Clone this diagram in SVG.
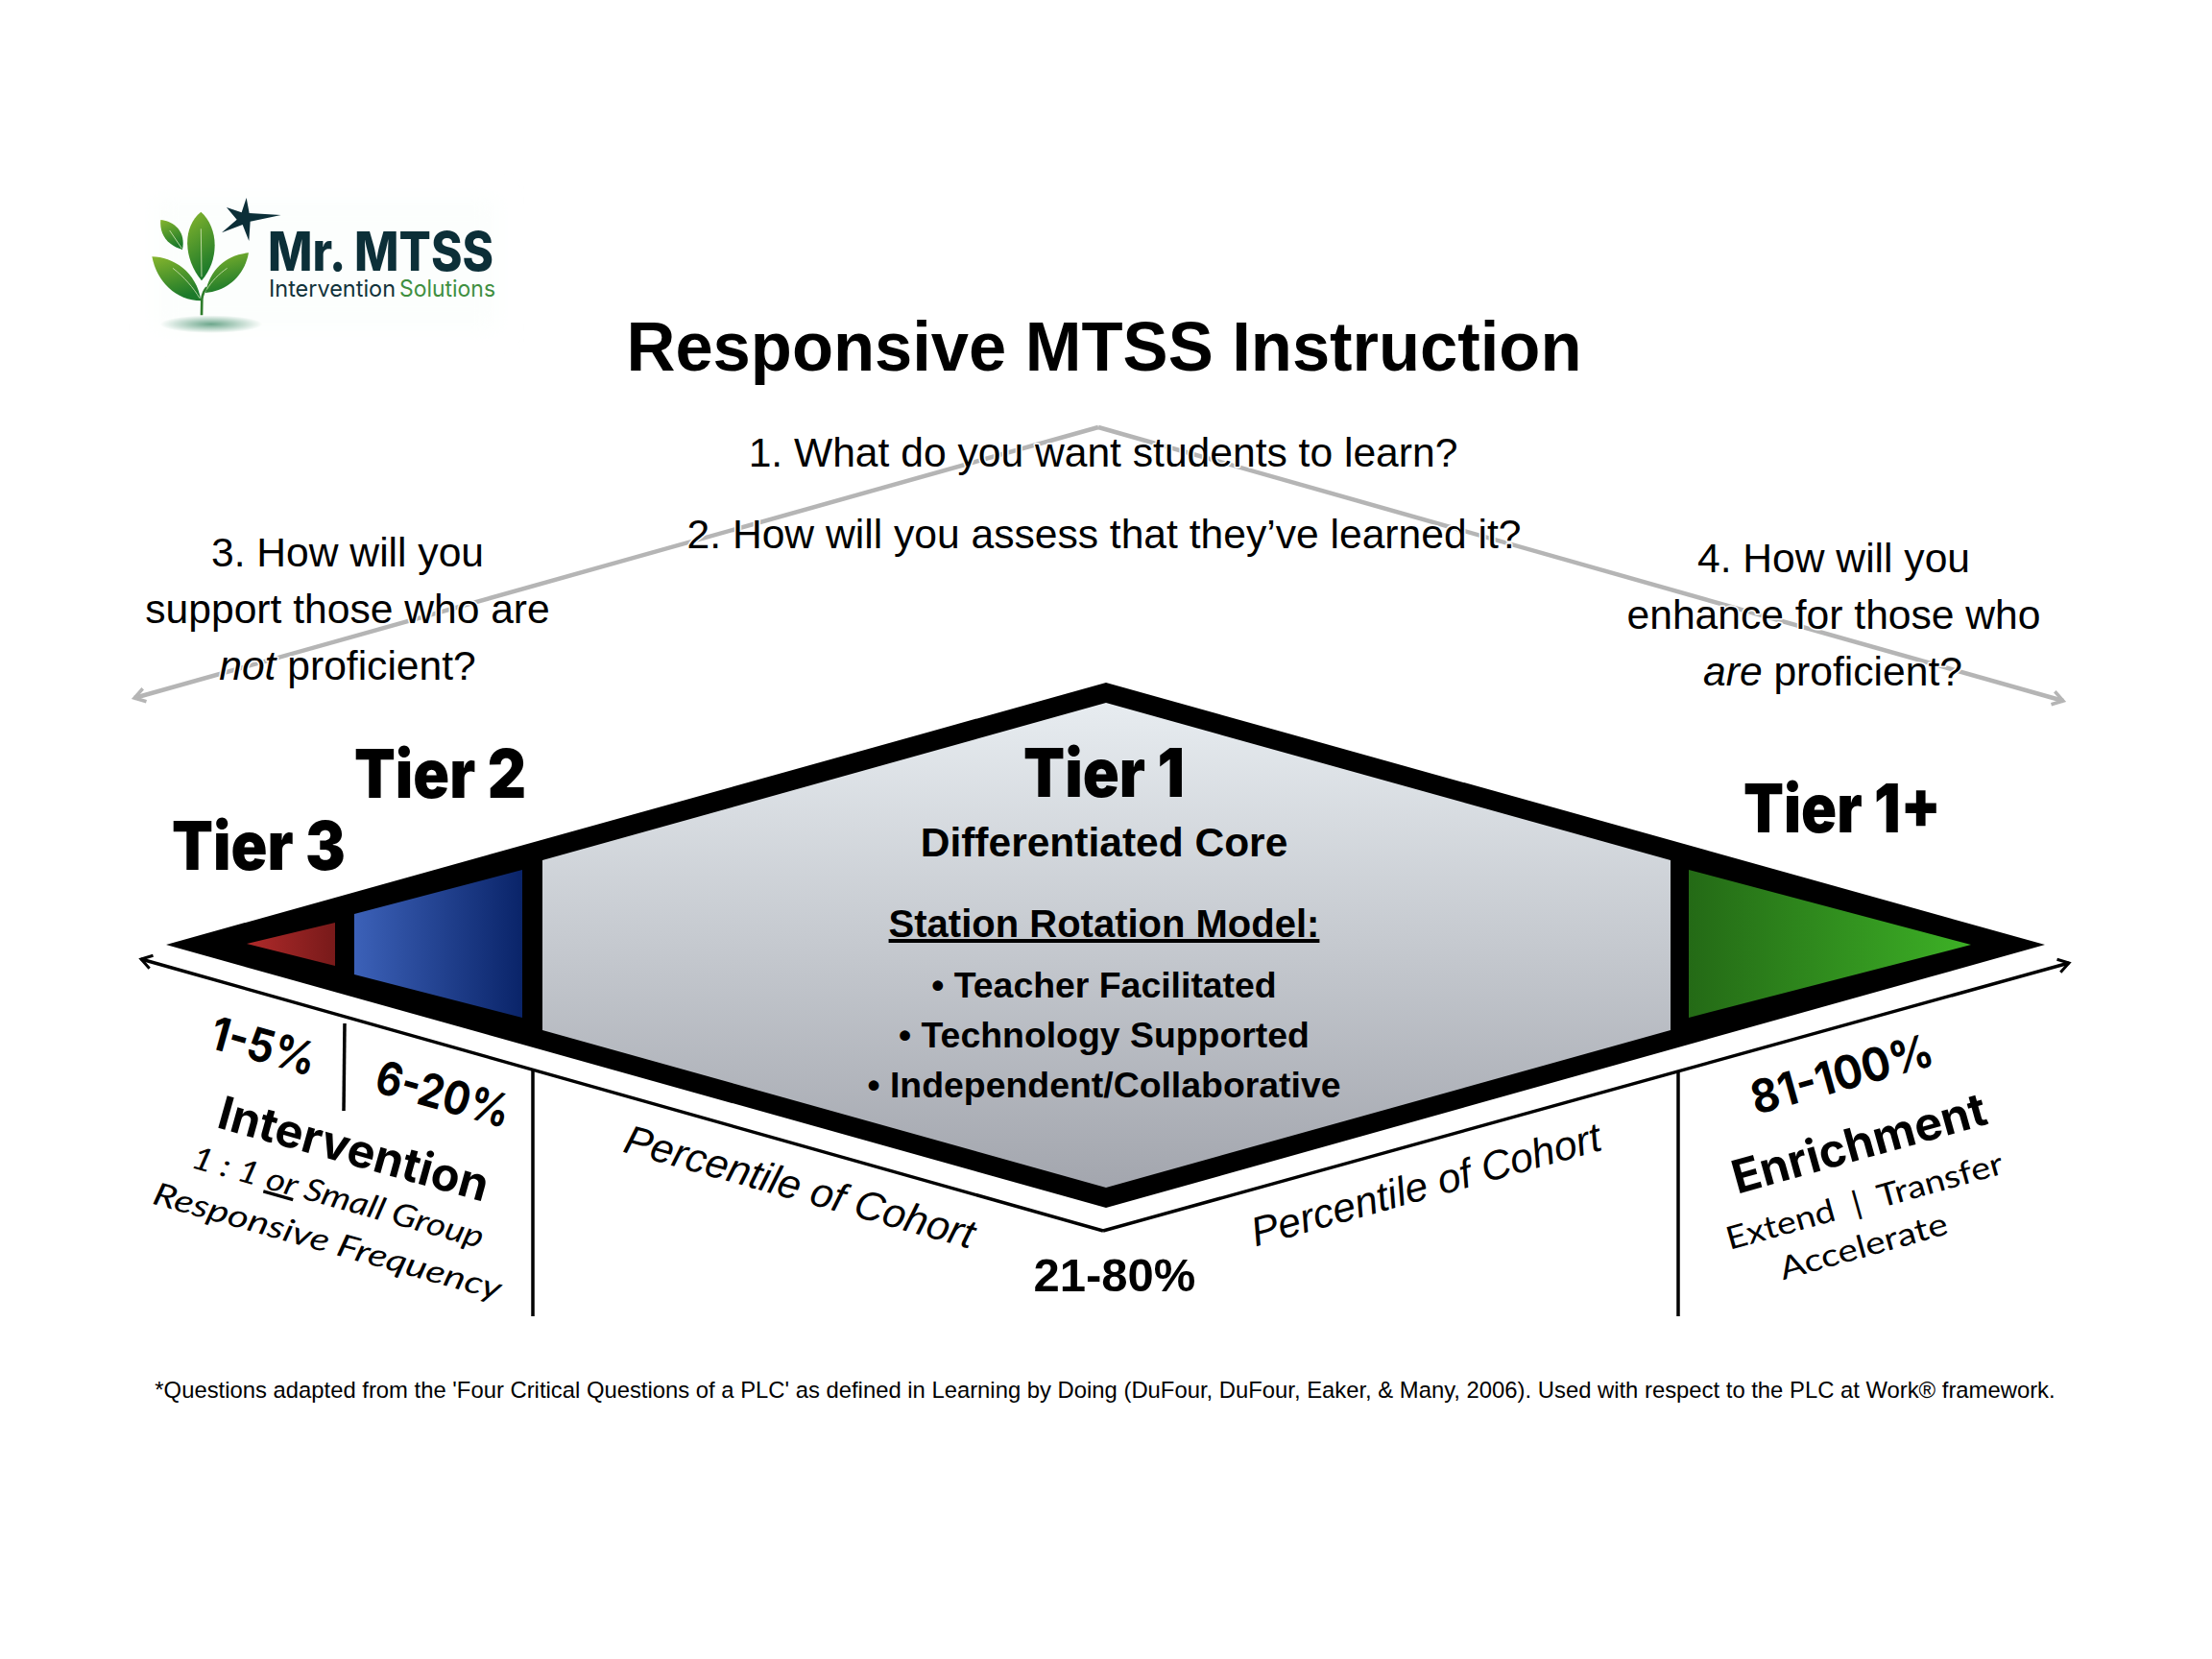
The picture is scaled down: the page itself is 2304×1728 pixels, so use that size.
<svg xmlns="http://www.w3.org/2000/svg" width="2304" height="1728" viewBox="0 0 2304 1728">
<style>
.a{font-family:"Liberation Sans",Arial,sans-serif}
.p{font-family:Inter,"Open Sans",sans-serif}
.q{font-family:"Liberation Sans",Arial,sans-serif;font-size:42.6px;fill:#000;text-anchor:middle;stroke:#fff;stroke-width:3px;paint-order:stroke;stroke-linejoin:round}
.b{font-family:"Liberation Sans",Arial,sans-serif;font-weight:700;text-anchor:middle;fill:#000}
.t{font-family:Inter,sans-serif;font-weight:900;font-size:70px;fill:#000}
.r{font-family:Inter,sans-serif;font-weight:700;text-anchor:middle;fill:#000}
.l{font-family:Lato,"Open Sans",sans-serif;font-weight:400;font-size:33px;text-anchor:middle;fill:#000}
.pc{font-family:"Liberation Sans",Arial,sans-serif;font-style:italic;font-size:42.6px;text-anchor:middle;fill:#000}
.gl{fill:none;stroke:#b5b5b5;stroke-width:4.5}
.bl{fill:none;stroke:#000;stroke-width:3.5}
</style>
<defs>
<linearGradient id="gc" x1="0" y1="0" x2="0" y2="1"><stop offset="0" stop-color="#e7ecf0"/><stop offset="1" stop-color="#a3a6ae"/></linearGradient>
<linearGradient id="gb" x1="0" y1="0" x2="1" y2="0"><stop offset="0" stop-color="#3c61b8"/><stop offset="1" stop-color="#0a2469"/></linearGradient>
<linearGradient id="gr" x1="0" y1="0" x2="1" y2="0"><stop offset="0" stop-color="#b02a2a"/><stop offset="1" stop-color="#781a1a"/></linearGradient>
<linearGradient id="gg" x1="0" y1="0" x2="1" y2="0"><stop offset="0" stop-color="#246a16"/><stop offset="1" stop-color="#3db126"/></linearGradient>
<linearGradient id="lf" x1="0" y1="0" x2="0.3" y2="1"><stop offset="0" stop-color="#86b52d"/><stop offset="1" stop-color="#1c7a2a"/></linearGradient>
<radialGradient id="sh"><stop offset="0" stop-color="#6da78c"/><stop offset="1" stop-color="#6da78c" stop-opacity="0"/></radialGradient>
<filter id="blur" x="-10%" y="-20%" width="120%" height="140%"><feGaussianBlur stdDeviation="12"/></filter>
<marker id="ag" viewBox="0 0 20 20" refX="16" refY="10" markerWidth="20" markerHeight="20" markerUnits="userSpaceOnUse" orient="auto"><path d="M5,3 L16,10 L5,17" fill="none" stroke="#b5b5b5" stroke-width="3.5"/></marker>
<marker id="ak" viewBox="0 0 20 20" refX="16" refY="10" markerWidth="20" markerHeight="20" markerUnits="userSpaceOnUse" orient="auto"><path d="M5,3 L16,10 L5,17" fill="none" stroke="#000" stroke-width="3"/></marker>
</defs>
<rect width="2304" height="1728" fill="#fff"/>

<g id="logo">
<rect x="160" y="205" width="360" height="140" fill="#fcfefd" filter="url(#blur)"/>
<g transform="translate(130,180) scale(0.3333)">
<ellipse cx="270" cy="473" rx="160" ry="28" fill="url(#sh)"/>
<path d="M240,445 L241,395 C243,375 250,365 256,358" fill="none" stroke="#2f7d2c" stroke-width="8"/>
<path d="M112,147 C150,150 192,180 180,240 C130,225 108,190 112,147Z" fill="url(#lf)"/>
<path d="M238,122 C292,170 298,270 240,337 C184,270 178,170 238,122Z" fill="url(#lf)"/>
<path d="M85,262 C150,262 225,310 238,400 C160,400 100,340 85,262Z" fill="url(#lf)"/>
<path d="M387,250 C375,320 320,370 252,375 C265,300 320,255 387,250Z" fill="url(#lf)"/>
<path d="M238,175 L240,325 M150,298 C185,325 215,360 234,392 M320,298 C295,315 270,340 256,365 M140,180 L178,236" fill="none" stroke="#cfe3b5" stroke-width="2.5"/>
<polygon points="380,78 389,126 488,132 392,152 388,213 368,162 303,187 350,146 318,108 365,124" fill="#0c2f38"/>
</g>
<text x="279" y="282" class="p" font-weight="800" font-size="56" fill="#0c2f38" textLength="235" lengthAdjust="spacingAndGlyphs">Mr. MTSS</text>
<text x="280" y="309" class="p" font-size="24" fill="#12333b" textLength="132" lengthAdjust="spacingAndGlyphs">Intervention</text>
<text x="416" y="309" class="p" font-size="24" fill="#3f8f3f" textLength="100" lengthAdjust="spacingAndGlyphs">Solutions</text>
</g>

<g id="connectors">
<line class="gl" x1="1144" y1="445" x2="140" y2="727" marker-end="url(#ag)"/>
<line class="gl" x1="1144" y1="445" x2="2149" y2="730" marker-end="url(#ag)"/>
<line class="bl" x1="1149" y1="1282" x2="147" y2="999" marker-end="url(#ak)"/>
<line class="bl" x1="1149" y1="1282" x2="2155" y2="1003" marker-end="url(#ak)"/>
<line class="bl" x1="359" y1="1066" x2="358" y2="1157"/>
<line class="bl" x1="555" y1="1115" x2="555" y2="1371"/>
<line class="bl" x1="1748" y1="1117" x2="1748" y2="1371"/>
</g>

<g id="diamond">
<polygon points="173,984 1152,711 2130,984 1152,1258" fill="#000"/>
</g>
<g id="tier3-node">
<polygon points="257,983 349,961 349,1006" fill="url(#gr)"/>
<text class="t" x="179" y="906" textLength="181" lengthAdjust="spacingAndGlyphs">Tier 3</text>
</g>
<g id="tier2-node">
<polygon points="369,952 544,906 544,1060 369,1015" fill="url(#gb)"/>
<text class="t" x="369" y="831" textLength="179" lengthAdjust="spacingAndGlyphs">Tier 2</text>
</g>
<g id="tier1-node">
<polygon points="1152,732 1740,896 1740,1073 1152,1237 565,1073 565,896" fill="url(#gc)"/>
<text class="t" x="1066" y="830" textLength="168" lengthAdjust="spacingAndGlyphs">Tier 1</text>
<text class="b" x="1150" y="892" font-size="42.5">Differentiated Core</text>
<text class="b" x="1150" y="976" font-size="40" text-decoration="underline">Station Rotation Model:</text>
<text class="b" x="1150" y="1039" font-size="37.4">• Teacher Facilitated</text>
<text class="b" x="1150" y="1091" font-size="37.4">• Technology Supported</text>
<text class="b" x="1150" y="1143" font-size="37.4">• Independent/Collaborative</text>
</g>
<g id="tier1plus-node">
<polygon points="1759,906 2053,984 1759,1060" fill="url(#gg)"/>
<text class="t" x="1816" y="867" textLength="206" lengthAdjust="spacingAndGlyphs">Tier 1+</text>
</g>

<g id="title"><text class="b" x="1150" y="386" font-size="72" textLength="995" lengthAdjust="spacingAndGlyphs">Responsive MTSS Instruction</text></g>
<g id="q12">
<text class="q" x="1149" y="486">1. What do you want students to learn?</text>
<text class="q" x="1150" y="571">2. How will you assess that they’ve learned it?</text>
</g>
<g id="q3">
<text class="q" x="362" y="590">3. How will you</text>
<text class="q" x="362" y="649">support those who are</text>
<text class="q" x="362" y="708"><tspan font-style="italic">not</tspan> proficient?</text>
</g>
<g id="q4">
<text class="q" x="1910" y="596">4. How will you</text>
<text class="q" x="1910" y="655">enhance for those who</text>
<text class="q" x="1909" y="714"><tspan font-style="italic">are</tspan> proficient?</text>
</g>

<g id="left-labels">
<text class="r" font-size="48" transform="translate(270,1106) rotate(15.6)" textLength="112" lengthAdjust="spacingAndGlyphs">1-5%</text>
<text class="r" font-size="48" transform="translate(457,1156) rotate(15.6)" textLength="143" lengthAdjust="spacingAndGlyphs">6-20%</text>
<text class="r" font-size="48" font-weight="800" transform="translate(364,1213) rotate(15.6)" textLength="290" lengthAdjust="spacingAndGlyphs">Intervention</text>
<text class="l" font-style="italic" transform="translate(349,1258) rotate(15.6)" textLength="314" lengthAdjust="spacingAndGlyphs">1 : 1 <tspan text-decoration="underline">or</tspan> Small Group</text>
<text class="l" font-style="italic" transform="translate(338,1304) rotate(15.6)" textLength="375" lengthAdjust="spacingAndGlyphs">Responsive Frequency</text>
<text class="pc" transform="translate(829,1250) rotate(15.6)">Percentile of Cohort</text>
</g>
<g id="right-labels">
<text class="pc" transform="translate(1489,1248) rotate(-15.6)">Percentile of Cohort</text>
<text class="b" x="1161" y="1345" font-size="49">21-80%</text>
<text class="r" font-size="48" transform="translate(1923,1135) rotate(-15.6)" textLength="195" lengthAdjust="spacingAndGlyphs">81-100%</text>
<text class="r" font-size="48" font-weight="800" transform="translate(1941,1207) rotate(-15.6)" textLength="273" lengthAdjust="spacingAndGlyphs">Enrichment</text>
<text class="l" transform="translate(1945,1262) rotate(-15.6)" textLength="298" lengthAdjust="spacingAndGlyphs">Extend &#160;|&#160; Transfer</text>
<text class="l" transform="translate(1944,1309) rotate(-15.6)" textLength="180" lengthAdjust="spacingAndGlyphs">Accelerate</text>
</g>
<g id="footnote"><text class="a" x="1151" y="1456" font-size="23.84" text-anchor="middle">*Questions adapted from the 'Four Critical Questions of a PLC' as defined in Learning by Doing (DuFour, DuFour, Eaker, &amp; Many, 2006). Used with respect to the PLC at Work® framework.</text></g>
</svg>
